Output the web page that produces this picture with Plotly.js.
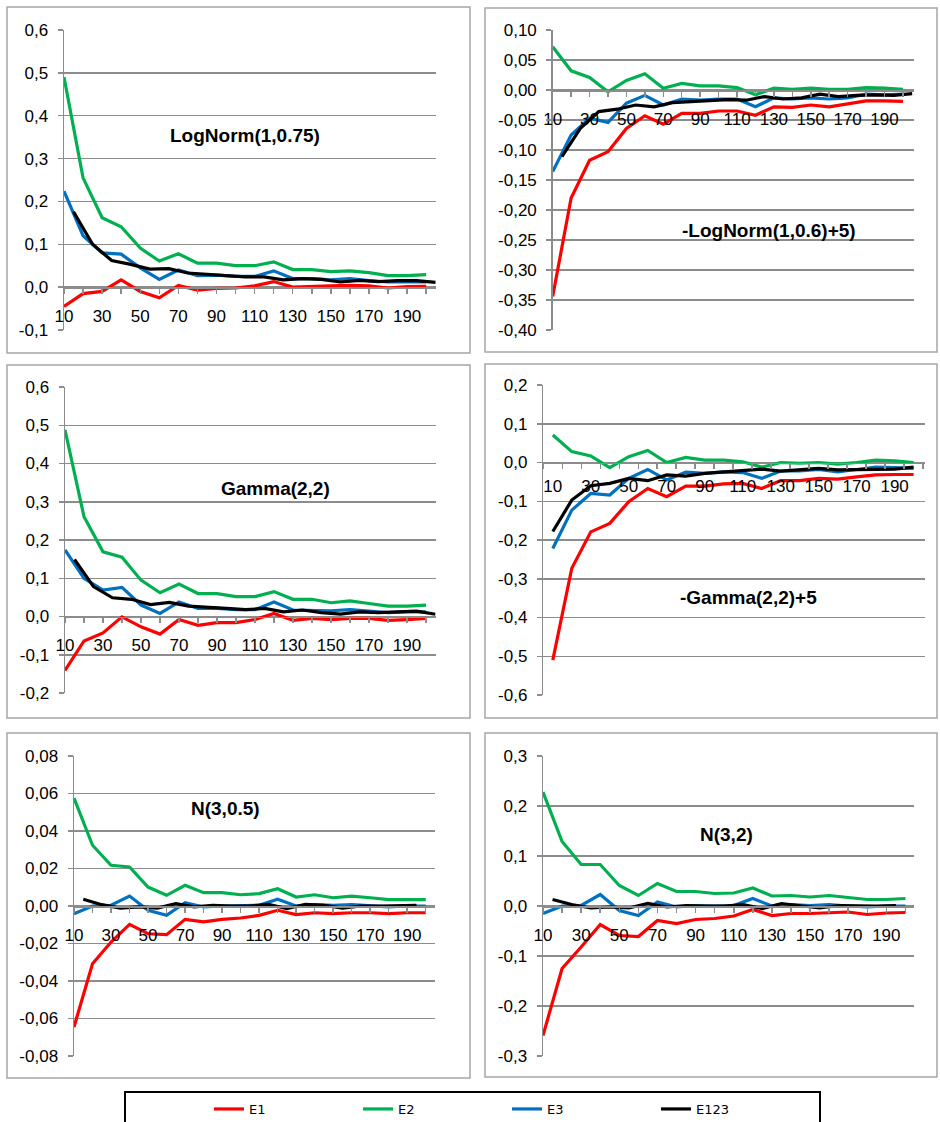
<!DOCTYPE html>
<html><head><meta charset="utf-8">
<script src="https://cdn.plot.ly/plotly-3.0.1.min.js"></script>
<style>html,body{margin:0;padding:0;background:#fff}#chart{width:940px;height:1122px}</style>
</head><body><div id="chart"></div>
<script>
// ---------- data ----------
const xCat = [10,20,30,40,50,60,70,80,90,100,110,120,130,140,150,160,170,180,190,200];
const xMid = [15,25,35,45,55,65,75,85,95,105,115,125,135,145,155,165,175,185,195,205];
const xMidN = [15,25,35,45,55,65,75,85,95,105,115,125,135,145,155,165,175,185,195];
const xLabels = ['10','','30','','50','','70','','90','','110','','130','','150','','170','','190',''];

const seriesNames = ['E1','E2','E3','E123'];
const seriesColors = ['#ff0000','#00b050','#0070c0','#000000'];
const panelTitles = ['LogNorm(1,0.75)','-LogNorm(1,0.6)+5)','Gamma(2,2)','-Gamma(2,2)+5','N(3,0.5)','N(3,2)'];

// Panel 1: LogNorm(1,0.75)
const p1_E1 = [-0.045,-0.015,-0.010,0.017,-0.010,-0.025,0.004,-0.007,-0.003,-0.002,0.003,0.013,0.000,0.002,0.003,0.004,0.003,-0.002,0.001,0.002];
const p1_E2 = [0.490,0.255,0.162,0.141,0.091,0.061,0.078,0.056,0.056,0.050,0.050,0.059,0.041,0.041,0.036,0.038,0.034,0.027,0.027,0.029];
const p1_E3 = [0.224,0.120,0.080,0.077,0.045,0.018,0.040,0.027,0.028,0.025,0.025,0.038,0.020,0.020,0.017,0.020,0.015,0.012,0.013,0.012];
const p1_E123 = [0.176,0.100,0.062,0.053,0.042,0.043,0.033,0.030,0.027,0.024,0.024,0.017,0.020,0.018,0.012,0.016,0.013,0.015,0.015,0.011];

// Panel 2: -LogNorm(1,0.6)+5
const p2_E1 = [-0.344,-0.180,-0.117,-0.103,-0.064,-0.043,-0.057,-0.039,-0.039,-0.035,-0.035,-0.042,-0.028,-0.029,-0.025,-0.028,-0.023,-0.018,-0.018,-0.019];
const p2_E2 = [0.072,0.032,0.021,-0.003,0.016,0.027,0.003,0.011,0.007,0.007,0.004,-0.008,0.003,0.001,0.003,0.001,0.001,0.004,0.003,0.001];
const p2_E3 = [-0.136,-0.075,-0.047,-0.054,-0.022,-0.009,-0.025,-0.015,-0.017,-0.015,-0.015,-0.028,-0.013,-0.015,-0.013,-0.015,-0.013,-0.007,-0.008,-0.007];
const p2_E123 = [-0.111,-0.064,-0.036,-0.032,-0.025,-0.028,-0.021,-0.019,-0.018,-0.016,-0.017,-0.011,-0.015,-0.013,-0.007,-0.011,-0.009,-0.008,-0.009,-0.006];

// Panel 3: Gamma(2,2)
const p3_E1 = [-0.141,-0.064,-0.043,-0.001,-0.027,-0.046,-0.008,-0.023,-0.016,-0.016,-0.008,0.008,-0.010,-0.005,-0.008,-0.005,-0.005,-0.010,-0.008,-0.005];
const p3_E2 = [0.488,0.261,0.169,0.155,0.095,0.062,0.085,0.060,0.060,0.052,0.052,0.065,0.045,0.045,0.036,0.041,0.034,0.027,0.027,0.030];
const p3_E3 = [0.174,0.100,0.069,0.076,0.030,0.008,0.038,0.021,0.021,0.018,0.018,0.038,0.017,0.017,0.015,0.018,0.015,0.010,0.012,0.012];
const p3_E123 = [0.149,0.078,0.049,0.045,0.031,0.037,0.027,0.025,0.021,0.018,0.021,0.012,0.017,0.010,0.006,0.012,0.010,0.012,0.014,0.006];

// Panel 4: -Gamma(2,2)+5
const p4_E1 = [-0.510,-0.273,-0.179,-0.157,-0.101,-0.067,-0.088,-0.061,-0.061,-0.055,-0.054,-0.067,-0.047,-0.047,-0.041,-0.043,-0.037,-0.032,-0.031,-0.031];
const p4_E2 = [0.071,0.028,0.017,-0.013,0.015,0.031,0.000,0.013,0.006,0.006,0.002,-0.012,0.000,-0.002,0.000,-0.004,0.000,0.006,0.004,0.000];
const p4_E3 = [-0.222,-0.123,-0.080,-0.084,-0.041,-0.018,-0.045,-0.025,-0.028,-0.024,-0.026,-0.041,-0.022,-0.022,-0.018,-0.024,-0.018,-0.012,-0.013,-0.015];
const p4_E123 = [-0.178,-0.097,-0.060,-0.054,-0.041,-0.047,-0.032,-0.035,-0.028,-0.024,-0.022,-0.017,-0.022,-0.019,-0.015,-0.019,-0.018,-0.017,-0.017,-0.012];

// Panel 5: N(3,0.5)
const p5_E1 = [-0.0645,-0.0308,-0.0192,-0.0098,-0.0148,-0.0153,-0.0071,-0.0085,-0.0071,-0.0064,-0.0050,-0.0023,-0.0046,-0.0036,-0.0041,-0.0036,-0.0036,-0.0041,-0.0036,-0.0036];
const p5_E2 = [0.0576,0.0324,0.0217,0.0208,0.0101,0.0057,0.0110,0.0071,0.0071,0.0060,0.0066,0.0092,0.0048,0.0060,0.0044,0.0053,0.0044,0.0034,0.0034,0.0034];
const p5_E3 = [-0.0041,0.0000,0.0004,0.0053,-0.0023,-0.0050,0.0018,-0.0005,0.0000,0.0000,0.0004,0.0036,0.0000,0.0007,0.0004,0.0007,0.0000,-0.0005,0.0000,0.0000];
const p5_E123 = [0.0036,0.0007,-0.0011,-0.0005,-0.0011,0.0012,-0.0005,0.0004,0.0000,0.0000,0.0009,-0.0014,0.0009,0.0004,-0.0011,0.0000,0.0000,0.0000,0.0004];

// Panel 6: N(3,2)
const p6_E1 = [-0.259,-0.125,-0.082,-0.037,-0.059,-0.061,-0.029,-0.035,-0.027,-0.025,-0.020,-0.007,-0.019,-0.015,-0.015,-0.013,-0.012,-0.017,-0.014,-0.013];
const p6_E2 = [0.228,0.129,0.083,0.083,0.041,0.021,0.045,0.029,0.029,0.025,0.026,0.036,0.020,0.021,0.018,0.021,0.017,0.013,0.013,0.015];
const p6_E3 = [-0.015,0.000,0.001,0.023,-0.009,-0.019,0.008,-0.002,0.001,0.000,0.001,0.015,0.000,0.003,0.001,0.003,0.000,-0.002,0.000,0.000];
const p6_E123 = [0.013,0.003,-0.004,-0.002,-0.004,0.005,-0.002,0.001,0.000,0.000,0.003,-0.005,0.005,0.001,-0.004,0.001,0.000,0.000,0.001];

// y tick values and labels
const p1_yTicks = [-0.1,0,0.1,0.2,0.3,0.4,0.5,0.6];
const p1_yLabels = ['-0,1','0,0','0,1','0,2','0,3','0,4','0,5','0,6'];
const p2_yTicks = [-0.4,-0.35,-0.3,-0.25,-0.2,-0.15,-0.1,-0.05,0,0.05,0.1];
const p2_yLabels = ['-0,40','-0,35','-0,30','-0,25','-0,20','-0,15','-0,10','-0,05','0,00','0,05','0,10'];
const p3_yTicks = [-0.2,-0.1,0,0.1,0.2,0.3,0.4,0.5,0.6];
const p3_yLabels = ['-0,2','-0,1','0,0','0,1','0,2','0,3','0,4','0,5','0,6'];
const p4_yTicks = [-0.6,-0.5,-0.4,-0.3,-0.2,-0.1,0,0.1,0.2];
const p4_yLabels = ['-0,6','-0,5','-0,4','-0,3','-0,2','-0,1','0,0','0,1','0,2'];
const p5_yTicks = [-0.08,-0.06,-0.04,-0.02,0,0.02,0.04,0.06,0.08];
const p5_yLabels = ['-0,08','-0,06','-0,04','-0,02','0,00','0,02','0,04','0,06','0,08'];
const p6_yTicks = [-0.3,-0.2,-0.1,0,0.1,0.2,0.3];
const p6_yLabels = ['-0,3','-0,2','-0,1','0,0','0,1','0,2','0,3'];

// ---------- layout ----------
const W = 940, H = 1122;
const GRID = '#8c8c8c';
const panels = [
  {s:[p1_E1,p1_E2,p1_E3,p1_E123], x123:xMid, yt:p1_yTicks, yl:p1_yLabels, xr:[10,205], yr:[-0.1,0.6], plot:[64,30,435.7,330], box:[7,7,470,353], title:[245,135], between:false},
  {s:[p2_E1,p2_E2,p2_E3,p2_E123], x123:xMid, yt:p2_yTicks, yl:p2_yLabels, xr:[10,206], yr:[-0.4,0.1], plot:[552.7,30,914,330], box:[485,8,937,352], title:[769,231], between:false},
  {s:[p3_E1,p3_E2,p3_E3,p3_E123], x123:xMid, yt:p3_yTicks, yl:p3_yLabels, xr:[10,205], yr:[-0.2,0.6], plot:[65,387,435.5,693], box:[7,365,470,718], title:[275,488], between:false},
  {s:[p4_E1,p4_E2,p4_E3,p4_E123], x123:xCat, yt:p4_yTicks, yl:p4_yLabels, xr:[5,206], yr:[-0.6,0.2], plot:[543.3,385,925,695], box:[485,364,937,718], title:[748,597], between:true},
  {s:[p5_E1,p5_E2,p5_E3,p5_E123], x123:xMidN, yt:p5_yTicks, yl:p5_yLabels, xr:[10,205], yr:[-0.08,0.08], plot:[74,756,435,1056], box:[7,733,470,1078], title:[225,808], between:false},
  {s:[p6_E1,p6_E2,p6_E3,p6_E123], x123:xMidN, yt:p6_yTicks, yl:p6_yLabels, xr:[10,204.5], yr:[-0.3,0.3], plot:[543,756,914,1056], box:[485,733,937,1077], title:[726,834], between:false}
];

const tickFont = {family:'Liberation Sans, Arial, sans-serif', size:17, color:'#000'};
const data = [];
const layout = {
  width: W, height: H,
  margin: {l:0, r:0, t:0, b:0, autoexpand: false},
  paper_bgcolor: '#fff', plot_bgcolor: 'rgba(0,0,0,0)',
  showlegend: true,
  legend: {
    orientation: 'h', x: 209/W, xanchor: 'left', y: 1 - 1094/H, yanchor: 'top',
    entrywidth: 104, entrywidthmode: 'pixels',
    font: {family: 'DejaVu Sans, sans-serif', size: 13, color: '#000'},
    bgcolor: 'rgba(0,0,0,0)', borderwidth: 0
  },
  shapes: [], annotations: []
};

panels.forEach((p, i) => {
  const n = i === 0 ? '' : String(i + 1);
  const xa = 'xaxis' + n, ya = 'yaxis' + n;
  const [l, t, r, b] = p.plot;
  const yDom = [1 - b / H, 1 - t / H];
  const zeroPos = yDom[0] + (0 - p.yr[0]) / (p.yr[1] - p.yr[0]) * (yDom[1] - yDom[0]);

  p.s.forEach((ys, k) => {
    data.push({
      type: 'scatter', mode: 'lines',
      x: k === 3 ? p.x123 : xCat, y: ys,
      name: seriesNames[k],
      xaxis: 'x' + n, yaxis: 'y' + n,
      line: {color: seriesColors[k], width: 3.2},
      showlegend: i === 0, legendgroup: seriesNames[k],
      cliponaxis: false
    });
  });

  layout[xa] = {
    domain: [l / W, r / W], range: p.xr,
    anchor: 'free', position: zeroPos,
    showgrid: false, zeroline: false,
    showline: true, linecolor: GRID, linewidth: 1.5,
    tickmode: 'array', tickvals: xCat, ticktext: xLabels,
    ticks: p.between ? '' : 'outside', ticklen: 5, tickwidth: 1.5, tickcolor: GRID,
    ticklabelstandoff: 8,
    tickfont: tickFont, fixedrange: true
  };
  if (p.between) {
    layout[xa].minor = {ticks: 'outside', ticklen: 5, tickwidth: 1.5, tickcolor: GRID, tickmode: 'linear', tick0: 5, dtick: 10, showgrid: false};
  }
  layout[ya] = {
    domain: yDom, range: p.yr, anchor: 'x' + n,
    showgrid: true, gridcolor: GRID, gridwidth: 1.5,
    zeroline: false,
    showline: true, linecolor: GRID, linewidth: 1.5,
    tickmode: 'array', tickvals: p.yt, ticktext: p.yl,
    ticks: 'outside', ticklen: 5, tickwidth: 1.5, tickcolor: GRID,
    ticklabelstandoff: 6,
    tickfont: tickFont, fixedrange: true
  };

  const [bx0, by0, bx1, by1] = p.box;
  layout.shapes.push({type: 'rect', xref: 'paper', yref: 'paper',
    x0: bx0 / W, x1: bx1 / W, y0: 1 - by1 / H, y1: 1 - by0 / H,
    line: {color: '#a6a6a6', width: 1.5}, fillcolor: 'rgba(0,0,0,0)', layer: 'below'});

  layout.annotations.push({xref: 'paper', yref: 'paper',
    x: p.title[0] / W, y: 1 - p.title[1] / H, xanchor: 'center', yanchor: 'middle',
    text: '<b>' + panelTitles[i] + '</b>', showarrow: false,
    font: {family: 'Liberation Sans, Arial, sans-serif', size: 19, color: '#000'}});
});

// legend frame
layout.shapes.push({type: 'rect', xref: 'paper', yref: 'paper',
  x0: 125 / W, x1: 820 / W, y0: -0.01, y1: 1 - 1092 / H,
  line: {color: '#000', width: 2}, fillcolor: 'rgba(0,0,0,0)'});

Plotly.newPlot('chart', data, layout, {displayModeBar: false, staticPlot: true});
</script>
</body></html>
